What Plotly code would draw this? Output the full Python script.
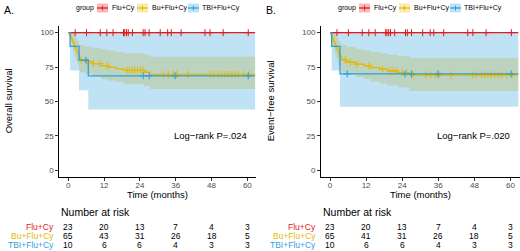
import numpy as np
import plotly.graph_objects as go

W, H = 520, 251
FONT = "Liberation Sans"

groups = ["Flu+Cy", "Bu+Flu+Cy", "TBI+Flu+Cy"]
colors = ["#E41A1C", "#E7B800", "#2E9FDF"]
band_colors = ["rgba(228,26,28,0.3)", "rgba(231,184,0,0.3)", "rgba(46,159,223,0.3)"]

risk_times = [0, 12, 24, 36, 48, 60]
risk_os = [[23, 20, 13, 7, 4, 3], [65, 43, 31, 26, 18, 5], [10, 6, 6, 4, 3, 3]]
risk_efs = [[23, 20, 13, 7, 4, 3], [65, 41, 31, 26, 18, 5], [10, 6, 6, 4, 3, 3]]
x_ticks = [0, 12, 24, 36, 48, 60]
y_ticks = [0, 25, 50, 75, 100]
t_end = 62.6

# ---------- Overall survival ----------
os_flu_t = [0]
os_flu_s = [100]
os_flu_lo = [100]
os_flu_hi = [100]

os_bu_t = [0, 0.4, 0.8, 1.1, 1.4, 1.7, 2.0, 2.3, 2.6, 2.9, 3.2, 3.6, 3.9, 5.5, 8.0, 11.0, 13.5, 16.0, 18.5, 25.5, 27.3]
os_bu_s = [100, 98.5, 96.9, 95.4, 93.8, 92.3, 90.8, 89.2, 87.7, 86.2, 84.6, 81.5, 80.0, 78.9, 77.5, 76.0, 74.8, 73.7, 72.5, 71.2, 69.6]
os_bu_lo = [100, 95.5, 92.5, 90.5, 88, 86, 84, 82, 80, 78, 76.5, 73, 71, 70, 68, 66, 65, 64, 62.5, 61, 59]
os_bu_hi = [100, 100, 100, 100, 99.5, 99, 98, 97, 96, 95, 94, 92, 91, 90, 89, 88, 87, 86, 85, 84, 82.5]

os_tbi_t = [0, 0.6, 3.6, 6.7]
os_tbi_s = [100, 90, 80, 68.6]
os_tbi_lo = [100, 72.5, 58, 44]
os_tbi_hi = [100, 100, 100, 100]

# ---------- Event-free survival ----------
efs_flu_t = [0]
efs_flu_s = [100]
efs_flu_lo = [100]
efs_flu_hi = [100]

efs_bu_t = [0, 0.3, 0.6, 0.9, 1.2, 1.5, 1.8, 2.1, 2.4, 2.7, 3.0, 3.3, 3.6, 4.0, 5.5, 8.5, 11.5, 13.5, 16.5, 19.0, 22.5, 26.5]
efs_bu_s = [100, 98.5, 96.9, 95.4, 93.8, 92.3, 90.8, 89.2, 87.7, 86.2, 84.6, 83.1, 81.5, 80.0, 78.5, 77.0, 75.9, 74.6, 73.4, 72.2, 70.9, 69.2]
efs_bu_lo = [100, 95.5, 92.5, 90.5, 88, 86, 84, 82, 80, 78, 76.5, 75, 73, 71, 69.5, 67.5, 66, 64.5, 63, 61.5, 60, 57.5]
efs_bu_hi = [100, 100, 100, 100, 99.5, 99, 98, 97, 96, 95, 94, 93, 92, 91, 89.5, 88, 87, 86, 85, 84, 83, 81.6]

efs_tbi_t = [0, 0.55, 3.3]
efs_tbi_s = [100, 90, 70]
efs_tbi_lo = [100, 72.5, 46]
efs_tbi_hi = [100, 100, 100]

# ---------- censoring times (months) ----------
cens_flu = [2.3, 6.1, 10.7, 12.9, 15.0, 18.5, 18.9, 19.5, 20.1, 21.5, 25.1, 25.7, 27.1, 30.8, 33.3, 34.5,
            37.8, 45.8, 47.5, 51.9, 60.3]
cens_bu_os = [4.3, 6.3, 8.4, 10.6, 13.0, 19.7, 20.6, 21.5, 22.3, 23.2, 24.2, 25.0, 31.9, 33.5, 35.2, 36.3,
              40.2, 47.5, 48.6, 50.3, 51.4, 52.5, 53.6, 54.8, 55.9, 57.0, 58.7, 60.5]
cens_bu_efs = [5.0, 6.8, 9.0, 13.0, 17.5, 20.0, 21.0, 22.0, 24.0, 25.5, 27.5, 31.9, 33.5, 35.2, 36.3,
               40.2, 47.5, 48.6, 50.3, 51.4, 52.5, 53.6, 54.8, 55.9, 57.0, 58.7, 60.5]
cens_tbi_os = [5.9, 25.1, 27.1, 35.8, 60.3]
cens_tbi_efs = [5.7, 24.9, 27.1, 35.9, 60.2]

panels = [
    dict(curves=[(os_flu_t, os_flu_s, os_flu_lo, os_flu_hi, cens_flu),
                 (os_bu_t, os_bu_s, os_bu_lo, os_bu_hi, cens_bu_os),
                 (os_tbi_t, os_tbi_s, os_tbi_lo, os_tbi_hi, cens_tbi_os)],
         risk=risk_os, ytitle="Overall survival", p="P=.024", label="A.",
         xl=59.35, xr=256.3, off=0),
    dict(curves=[(efs_flu_t, efs_flu_s, efs_flu_lo, efs_flu_hi, cens_flu),
                 (efs_bu_t, efs_bu_s, efs_bu_lo, efs_bu_hi, cens_bu_efs),
                 (efs_tbi_t, efs_tbi_s, efs_tbi_lo, efs_tbi_hi, cens_tbi_efs)],
         risk=risk_efs, ytitle="Event\u2212free survival", p="P=.020", label="B.",
         xl=321.0, xr=519.5, off=262),
]


def px(x):
    return x / W


def py(y):
    return 1 - y / H


fig = go.Figure()
annotations = []
shapes = []
y_top, y_bot = 25.8, 176.9

for k, pan in enumerate(panels):
    xa = "x" if k == 0 else "x2"
    ya = "y" if k == 0 else "y2"
    # bands (drawn in group order: Flu, Bu, TBI)
    for g in [0, 1, 2]:
        t, s, lo, hi, cens = pan["curves"][g]
        tt = list(t) + [t_end]
        fig.add_trace(go.Scatter(x=tt, y=list(lo) + [lo[-1]], mode="lines", line=dict(width=0, shape="hv"),
                                 xaxis=xa, yaxis=ya, showlegend=False, hoverinfo="skip"))
        fig.add_trace(go.Scatter(x=tt, y=list(hi) + [hi[-1]], mode="lines", line=dict(width=0, shape="hv"),
                                 fill="tonexty", fillcolor=band_colors[g],
                                 xaxis=xa, yaxis=ya, showlegend=False, hoverinfo="skip"))
    # lines and censor marks
    for g in [0, 1, 2]:
        t, s, lo, hi, cens = pan["curves"][g]
        tt = list(t) + [t_end]
        fig.add_trace(go.Scatter(x=tt, y=list(s) + [s[-1]], mode="lines",
                                 line=dict(color=colors[g], width=1.3, shape="hv"),
                                 xaxis=xa, yaxis=ya, showlegend=False))
        idx = np.searchsorted(np.array(t), np.array(cens), side="right") - 1
        cy = [s[i] for i in idx]
        fig.add_trace(go.Scatter(x=cens, y=cy, mode="markers",
                                 marker=dict(symbol="cross-thin", size=5, line=dict(color=colors[g], width=1.0)),
                                 xaxis=xa, yaxis=ya, showlegend=False))
    off = pan["off"]
    xc0 = pan["xl"] + (pan["xr"] - pan["xl"]) * 3 / 66
    xc60 = pan["xl"] + (pan["xr"] - pan["xl"]) * 63 / 66
    # panel label
    annotations.append(dict(text=pan["label"], x=px(2 + off), y=py(10), xref="paper", yref="paper",
                            xanchor="left", yanchor="middle", showarrow=False,
                            font=dict(size=10.5, color="black", family=FONT)))
    # legend
    annotations.append(dict(text="group", x=px(74 + off), y=py(8), xref="paper", yref="paper",
                            xanchor="left", yanchor="middle", showarrow=False,
                            font=dict(size=7, color="black", family=FONT)))
    keys = [(97, 110), (137, 150), (188, 200)]
    for g, (kx, tx) in enumerate(keys):
        x0, x1 = px(kx + off), px(kx + 11 + off)
        shapes.append(dict(type="rect", xref="paper", yref="paper", x0=x0, x1=x1, y0=py(12.5), y1=py(3.5),
                           fillcolor=band_colors[g], line=dict(width=0), layer="above"))
        shapes.append(dict(type="line", xref="paper", yref="paper", x0=x0, x1=x1, y0=py(8), y1=py(8),
                           line=dict(color=colors[g], width=1.3), layer="above"))
        shapes.append(dict(type="line", xref="paper", yref="paper", x0=px(kx + 5.5 + off), x1=px(kx + 5.5 + off),
                           y0=py(5.5), y1=py(10.5), line=dict(color=colors[g], width=1.0), layer="above"))
        annotations.append(dict(text=groups[g], x=px(tx + off), y=py(8), xref="paper", yref="paper",
                                xanchor="left", yanchor="middle", showarrow=False,
                                font=dict(size=7, color="black", family=FONT)))
    # y title
    annotations.append(dict(text=pan["ytitle"], x=px(8 + off), y=py((y_top + y_bot) / 2), xref="paper",
                            yref="paper", xanchor="center", yanchor="middle", textangle=-90, showarrow=False,
                            font=dict(size=9.5, color="black", family=FONT)))
    # x title
    annotations.append(dict(text="Time (months)", x=(xc0 + xc60) / 2 / W, y=py(194), xref="paper", yref="paper",
                            xanchor="center", yanchor="middle", showarrow=False,
                            font=dict(size=9.5, color="black", family=FONT)))
    # log-rank
    annotations.append(dict(text="Log\u2212rank " + pan["p"], x=(xc60 + 2) / W, y=py(135.7), xref="paper",
                            yref="paper", xanchor="right", yanchor="middle", showarrow=False,
                            font=dict(size=9.5, color="black", family=FONT)))
    # risk table
    annotations.append(dict(text="Number at risk", x=px(pan["xl"] - 0.5), y=py(212), xref="paper", yref="paper",
                            xanchor="left", yanchor="middle", showarrow=False,
                            font=dict(size=10.5, color="black", family=FONT)))
    row_y = [227.3, 236.0, 244.7]
    for g in range(3):
        annotations.append(dict(text=groups[g], x=px(pan["xl"] - 3), y=py(row_y[g]), xref="paper",
                                yref="paper", xanchor="right", yanchor="middle", showarrow=False,
                                font=dict(size=8.5, color=colors[g], family=FONT)))
        for tt, n in zip(risk_times, pan["risk"][g]):
            annotations.append(dict(text=str(n), x=tt, y=py(row_y[g]), xref=xa, yref="paper",
                                    xanchor="center", yanchor="middle", showarrow=False,
                                    font=dict(size=8.5, color="black", family=FONT)))

axis_common = dict(showgrid=False, zeroline=False, showline=True, linecolor="black", linewidth=1,
                   ticks="outside", ticklen=3, tickwidth=1, tickcolor="#333333",
                   tickfont=dict(size=8, color="#4D4D4D", family=FONT), fixedrange=True)

fig.update_layout(
    width=W, height=H, margin=dict(l=0, r=0, t=0, b=0),
    paper_bgcolor="white", plot_bgcolor="white", showlegend=False,
    xaxis=dict(domain=[px(panels[0]["xl"]), px(panels[0]["xr"])], range=[-3, 63], tickvals=x_ticks,
               anchor="y", ticklabelstandoff=-3, **axis_common),
    yaxis=dict(domain=[py(y_bot), py(y_top)], range=[-5, 105], tickvals=y_ticks, anchor="x", **axis_common),
    xaxis2=dict(domain=[px(panels[1]["xl"]), px(panels[1]["xr"])], range=[-3, 63], tickvals=x_ticks,
                anchor="y2", ticklabelstandoff=-3, **axis_common),
    yaxis2=dict(domain=[py(y_bot), py(y_top)], range=[-5, 105], tickvals=y_ticks, anchor="x2", **axis_common),
    annotations=annotations, shapes=shapes,
)

fig.write_html("out.html", config={"displayModeBar": False},
               post_script="document.body.style.margin='0px';document.body.style.padding='0px';")
